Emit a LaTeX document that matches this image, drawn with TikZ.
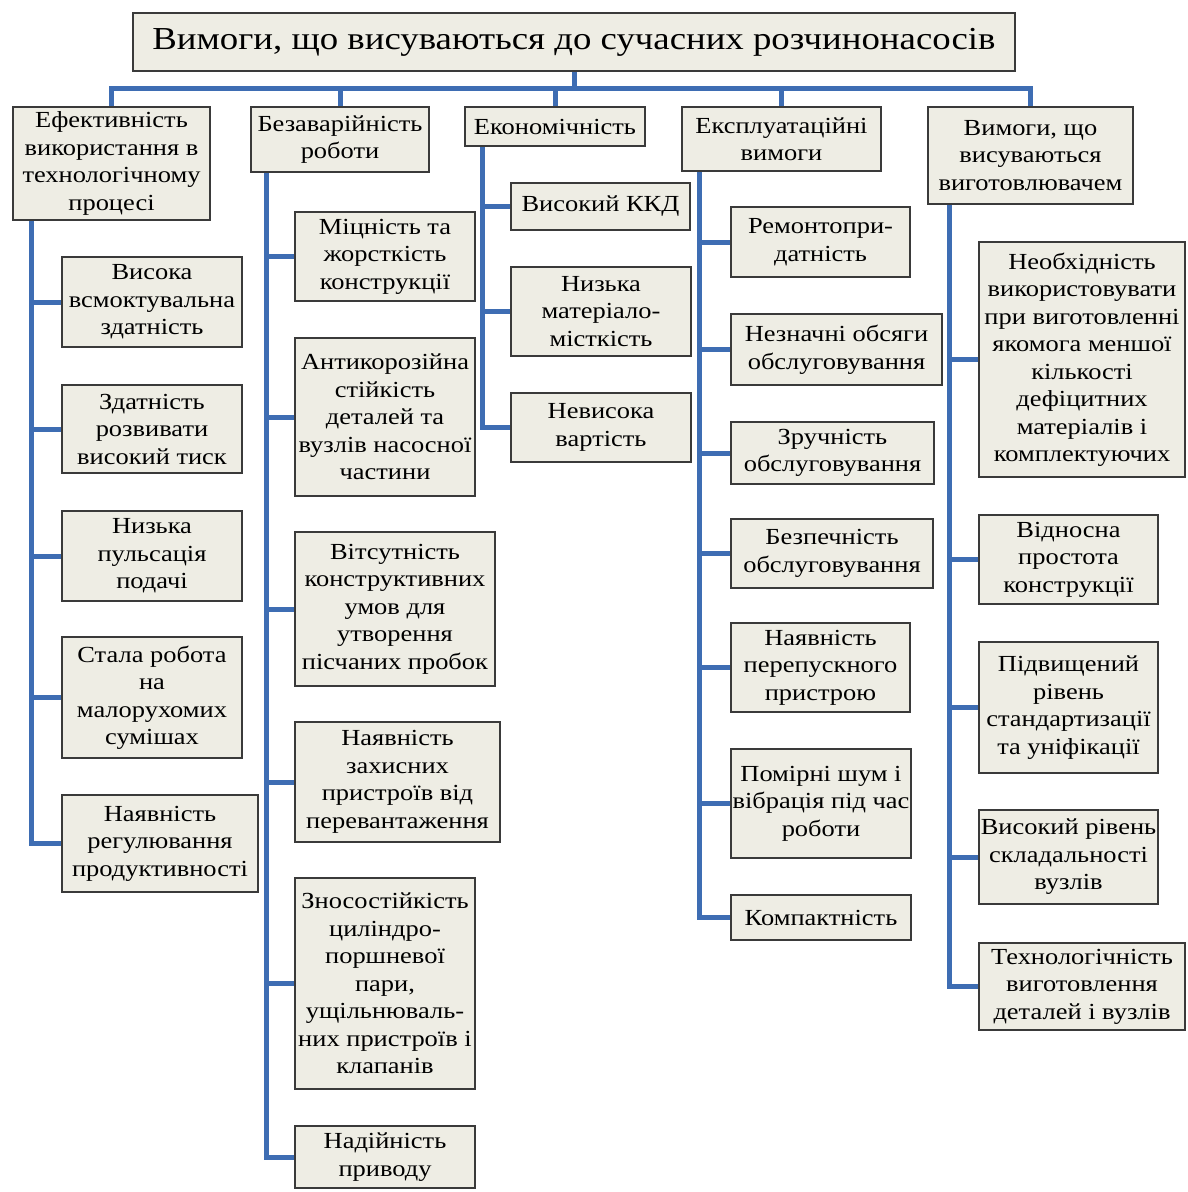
\documentclass[tikz,border=0pt]{standalone}
\usepackage{fontspec}
\setmainfont{Liberation Serif}[FakeStretch=1.15]
\usepackage{xcolor}
\usetikzlibrary{positioning, backgrounds}
\definecolor{boxfill}{HTML}{EEEDE4}
\definecolor{boxline}{HTML}{3A3A3A}
\definecolor{linkblue}{HTML}{3E6DB3}
\tikzset{
  box/.style={draw=boxline, line width=2.2pt, fill=boxfill, align=center, inner sep=0pt, font=\fontsize{23}{27.5}\selectfont},
  head/.style={box, font=\fontsize{32}{38}\selectfont},
  wh/.style 2 args={minimum width=#1pt, minimum height=#2pt},
  link/.style={draw=linkblue, line width=5pt},
}

\begin{document}
\begin{tikzpicture}[x=1pt, y=-1pt]
\useasboundingbox (0,0) rectangle (1187,1192);
\node[head, wh={882}{58}] (title) at (574,42) {Вимоги, що висуваються до сучасних розчинонасосів};
\coordinate (bus) at (0,88);

\node[box, wh={197}{113}] (b1) at (111.5,163.5) {Ефективність\\використання в\\технологічному\\процесі};
\node[box, wh={178}{65}] (b2) at (340,139.5) {Безаварійність\\роботи};
\node[box, wh={180}{39}] (b3) at (555,126.5) {Економічність};
\node[box, wh={199}{64}] (b4) at (781.5,139) {Експлуатаційні\\вимоги};
\node[box, wh={205}{97}] (b5) at (1030.5,155.5) {Вимоги, що\\висуваються\\виготовлювачем};

\node[box, wh={180}{90}] (b1a) at (152,302) {Висока\\всмоктувальна\\здатність};
\node[box, wh={180}{88}] (b1b) at (152,429) {Здатність\\розвивати\\високий тиск};
\node[box, wh={180}{90}] (b1c) at (152,556) {Низька\\пульсація\\подачі};
\node[box, wh={180}{121}] (b1d) at (152,697.5) {Стала робота\\на\\малорухомих\\сумішах};
\node[box, wh={196}{97}] (b1e) at (160,843.5) {Наявність\\регулювання\\продуктивності};

\node[box, wh={180}{89}] (b2a) at (385,256.5) {Міцність та\\жорсткість\\конструкції};
\node[box, wh={180}{158}] (b2b) at (385,417) {Антикорозійна\\стійкість\\деталей та\\вузлів насосної\\частини};
\node[box, wh={200}{154}] (b2c) at (395,609) {Вітсутність\\конструктивних\\умов для\\утворення\\пісчаних пробок};
\node[box, wh={205}{120}] (b2d) at (397.5,782) {Наявність\\захисних\\пристроїв від\\перевантаження};
\node[box, wh={180}{211}] (b2e) at (385,983.5) {Зносостійкість\\циліндро-\\поршневої\\пари,\\ущільнюваль-\\них пристроїв і\\клапанів};
\node[box, wh={180}{62}] (b2f) at (385,1157) {Надійність\\приводу};

\node[box, wh={179}{47}] (b3a) at (600.5,206.5) {Високий ККД};
\node[box, wh={180}{89}] (b3b) at (601,311.5) {Низька\\матеріало-\\місткість};
\node[box, wh={180}{69}] (b3c) at (601,427.5) {Невисока\\вартість};

\node[box, wh={179}{70}] (b4a) at (820.5,242) {Ремонтопри-\\датність};
\node[box, wh={211}{71}] (b4b) at (836.5,349.5) {Незначні обсяги\\обслуговування};
\node[box, wh={203}{62}] (b4c) at (832.5,453) {Зручність\\обслуговування};
\node[box, wh={202}{69}] (b4d) at (832,553.5) {Безпечність\\обслуговування};
\node[box, wh={179}{89}] (b4e) at (820.5,667.5) {Наявність\\перепускного\\пристрою};
\node[box, wh={180}{109}] (b4f) at (821,803.5) {Помірні шум і\\вібрація під час\\роботи};
\node[box, wh={180}{45}] (b4g) at (821,917.5) {Компактність};

\node[box, wh={206}{235}] (b5a) at (1082,359.5) {Необхідність\\використовувати\\при виготовленні\\якомога меншої\\кількості\\дефіцитних\\матеріалів і\\комплектуючих};
\node[box, wh={179}{89}] (b5b) at (1068.5,559.5) {Відносна\\простота\\конструкції};
\node[box, wh={179}{131}] (b5c) at (1068.5,707.5) {Підвищений\\рівень\\стандартизації\\та уніфікації};
\node[box, wh={179}{94}] (b5d) at (1068.5,857) {Високий рівень\\складальності\\вузлів};
\node[box, wh={206}{87}] (b5e) at (1082,986.5) {Технологічність\\виготовлення\\деталей і вузлів};

\begin{scope}[on background layer]
\foreach \n in {b1,b2,b3,b4,b5}
  \draw[link] (title.south) -- (title.south |- bus) -| (\n.north);
\foreach \c in {b1a,b1b,b1c,b1d,b1e}
  \draw[link] ([xshift=20pt]b1.south west) |- (\c.west);
\foreach \c in {b2a,b2b,b2c,b2d,b2e,b2f}
  \draw[link] ([xshift=17pt]b2.south west) |- (\c.west);
\foreach \c in {b3a,b3b,b3c}
  \draw[link] ([xshift=19pt]b3.south west) |- (\c.west);
\foreach \c in {b4a,b4b,b4c,b4d,b4e,b4f,b4g}
  \draw[link] ([xshift=19pt]b4.south west) |- (\c.west);
\foreach \c in {b5a,b5b,b5c,b5d,b5e}
  \draw[link] ([xshift=23pt]b5.south west) |- (\c.west);
\end{scope}
\end{tikzpicture}
\end{document}
